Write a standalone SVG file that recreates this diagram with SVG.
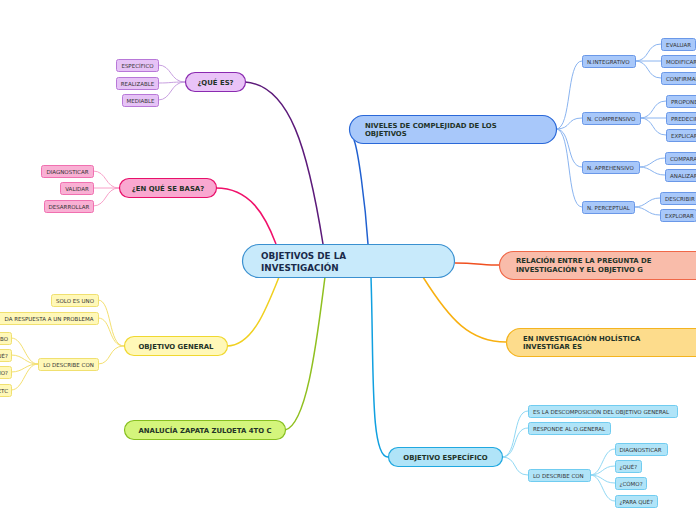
<svg xmlns="http://www.w3.org/2000/svg" width="696" height="520" viewBox="0 0 696 520">
<style>
text{font-family:"DejaVu Sans","Liberation Sans",sans-serif}
.m{font-size:6.9px;font-weight:bold;fill:#1f3328}
.s{font-size:5.5px;fill:#333}
.c{fill:none}
</style>
<rect width="696" height="520" fill="#fff"/>
<g id="connectors" class="c" fill="none">
<path d="M245,82 C290,85 308,150 323,244" stroke="#5c1a7a" stroke-width="1.5"/>
<path d="M216,188 C250,188 265,215 276,244" stroke="#f0106a" stroke-width="1.5"/>
<path d="M227,346 C252,346 266,310 279,277" stroke="#f0d020" stroke-width="1.5"/>
<path d="M285,430 C308,425 318,330 325,277" stroke="#90c020" stroke-width="1.5"/>
<path d="M371,277 C374,370 370,457 388,457" stroke="#10a0e0" stroke-width="1.5"/>
<path d="M368,244 C365,200 358,150 354,140" stroke="#2060d0" stroke-width="1.5"/>
<path d="M455,263 C475,263 485,265 499,265" stroke="#f05020" stroke-width="1.5"/>
<path d="M423,277 C450,320 470,342 506,342" stroke="#f8b010" stroke-width="1.5"/>
<g stroke="#c8a0e0" stroke-width="1">
<path d="M185,82 C170,82 172,65 158,65"/>
<path d="M185,82 C170,82 172,83 158,83"/>
<path d="M185,82 C170,82 172,100 158,100"/>
</g>
<g stroke="#f8a0c8" stroke-width="1">
<path d="M119,188 C105,188 107,171 93,171"/>
<path d="M119,188 L93,188"/>
<path d="M119,188 C105,188 107,206 93,206"/>
</g>
<g stroke="#f4e070" stroke-width="1">
<path d="M124,346 C108,346 112,300 98,300"/>
<path d="M124,346 C108,346 112,318 98,318"/>
<path d="M124,346 C108,346 112,364 98,364"/>
<path d="M38,364 C25,364 24,338 11,338"/>
<path d="M38,364 C25,364 24,355 11,355"/>
<path d="M38,364 C25,364 24,372 11,372"/>
<path d="M38,364 C25,364 24,390 11,390"/>
</g>
<g stroke="#8ab4f0" stroke-width="1">
<path d="M556,129 C572,129 566,61 582,61"/>
<path d="M556,129 C572,129 566,118 582,118"/>
<path d="M556,129 C572,129 566,167 582,167"/>
<path d="M556,129 C572,129 566,207 582,207"/>
<path d="M635,61 C650,61 646,44 661,44"/>
<path d="M635,61 L661,61"/>
<path d="M635,61 C650,61 646,78 661,78"/>
<path d="M640,118 C655,118 651,101 666,101"/>
<path d="M640,118 L666,118"/>
<path d="M640,118 C655,118 651,135 666,135"/>
<path d="M639,167 C652,167 652,158 665,158"/>
<path d="M639,167 C652,167 652,175 665,175"/>
<path d="M634,207 C647,207 647,198 660,198"/>
<path d="M634,207 C647,207 647,215 660,215"/>
</g>
<g stroke="#90d8f4" stroke-width="1">
<path d="M502,457 C518,457 512,411 528,411"/>
<path d="M502,457 C518,457 512,428 528,428"/>
<path d="M502,457 C518,457 512,475 528,475"/>
<path d="M590,475 C603,475 602,449 615,449"/>
<path d="M590,475 C603,475 602,466 615,466"/>
<path d="M590,475 C603,475 602,483 615,483"/>
<path d="M590,475 C603,475 602,501 615,501"/>
</g>
</g>
<g id="center">
<rect x="242.5" y="244.5" width="212" height="33" rx="16.5" fill="#c8eafb" stroke="#3a90d0" stroke-width="1.2"/>
<text x="261" y="259" font-size="8.8" font-weight="bold" fill="#1a2a4a">OBJETIVOS DE LA</text>
<text x="261" y="270.5" font-size="8.8" font-weight="bold" fill="#1a2a4a">INVESTIGACIÓN</text>
</g>
<g id="que-es">
<rect x="185.5" y="72.5" width="60" height="19" rx="9.5" fill="#e9c3f7" stroke="#8a2ab0" stroke-width="1.2"/>
<text class="m" x="215.5" y="84.5" text-anchor="middle">¿QUÉ ES?</text>
</g>
<g id="especifico"><rect x="116.5" y="59.5" width="42" height="12" rx="2" fill="#e6c3f6" stroke="#b878d8"/><text class="s" x="137.5" y="67.5" text-anchor="middle">ESPECÍFICO</text></g>
<g id="realizable"><rect x="116.5" y="77.5" width="42" height="12" rx="2" fill="#e6c3f6" stroke="#b878d8"/><text class="s" x="137.5" y="85.5" text-anchor="middle">REALIZABLE</text></g>
<g id="mediable"><rect x="122.5" y="94.5" width="36" height="12" rx="2" fill="#e6c3f6" stroke="#b878d8"/><text class="s" x="140.5" y="102.5" text-anchor="middle">MEDIABLE</text></g>
<g id="en-que-se-basa">
<rect x="119.5" y="178.5" width="97" height="19" rx="9.5" fill="#f9a8d0" stroke="#e8106a" stroke-width="1.2"/>
<text class="m" x="168" y="190.5" text-anchor="middle">¿EN QUÉ SE BASA?</text>
</g>
<g id="diagnosticar1"><rect x="41.5" y="165.5" width="52" height="12" rx="2" fill="#f9b0d4" stroke="#f070b0"/><text class="s" x="67.5" y="173.5" text-anchor="middle">DIAGNOSTICAR</text></g>
<g id="validar"><rect x="60.5" y="182.5" width="33" height="12" rx="2" fill="#f9b0d4" stroke="#f070b0"/><text class="s" x="77" y="190.5" text-anchor="middle">VALIDAR</text></g>
<g id="desarrollar"><rect x="44.5" y="200.5" width="49" height="12" rx="2" fill="#f9b0d4" stroke="#f070b0"/><text class="s" x="69" y="208.5" text-anchor="middle">DESARROLLAR</text></g>
<g id="objetivo-general">
<rect x="124.5" y="336.5" width="103" height="19" rx="9.5" fill="#fff8b8" stroke="#f0d830" stroke-width="1.2"/>
<text class="m" x="176" y="348.5" text-anchor="middle">OBJETIVO GENERAL</text>
</g>
<g id="solo-es-uno"><rect x="51.5" y="294.5" width="47" height="12" rx="2" fill="#fff8b8" stroke="#f0e070"/><text class="s" x="75" y="302.5" text-anchor="middle">SOLO ES UNO</text></g>
<g id="da-respuesta"><rect x="-2.5" y="312.5" width="101" height="12" rx="2" fill="#fff8b8" stroke="#f0e070"/><text class="s" x="49" y="320.5" text-anchor="middle">DA RESPUESTA A UN PROBLEMA</text></g>
<g id="lo-describe-con-g"><rect x="38.5" y="358.5" width="60" height="12" rx="2" fill="#fff8b8" stroke="#f0e070"/><text class="s" x="68.5" y="366.5" text-anchor="middle">LO DESCRIBE CON</text></g>
<g id="g-verbo"><rect x="-30.5" y="332.5" width="42" height="12" rx="2" fill="#fff8b8" stroke="#f0e070"/><text class="s" x="8" y="340.5" text-anchor="end">VERBO</text></g>
<g id="g-que"><rect x="-30.5" y="349.5" width="42" height="12" rx="2" fill="#fff8b8" stroke="#f0e070"/><text class="s" x="8" y="357.5" text-anchor="end">¿QUÉ?</text></g>
<g id="g-como"><rect x="-30.5" y="366.5" width="42" height="12" rx="2" fill="#fff8b8" stroke="#f0e070"/><text class="s" x="8" y="374.5" text-anchor="end">¿CÓMO?</text></g>
<g id="g-etc"><rect x="-30.5" y="384.5" width="42" height="12" rx="2" fill="#fff8b8" stroke="#f0e070"/><text class="s" x="8" y="392.5" text-anchor="end">ETC</text></g>
<g id="analucia">
<rect x="124.5" y="420.5" width="161" height="19" rx="9.5" fill="#d4f57c" stroke="#88c020" stroke-width="1.2"/>
<text class="m" x="205" y="432.5" text-anchor="middle">ANALUCÍA ZAPATA ZULOETA 4TO C</text>
</g>
<g id="objetivo-especifico">
<rect x="388.5" y="447.5" width="114" height="19" rx="9.5" fill="#b0e4f8" stroke="#20a8e0" stroke-width="1.2"/>
<text class="m" x="445.5" y="459.5" text-anchor="middle">OBJETIVO ESPECÍFICO</text>
</g>
<g id="descomposicion"><rect x="528.5" y="405.5" width="149" height="12" rx="2" fill="#b0e4f8" stroke="#70ccf0"/><text class="s" x="533" y="413.5">ES LA DESCOMPOSICIÓN DEL OBJETIVO GENERAL</text></g>
<g id="responde"><rect x="528.5" y="422.5" width="82" height="12" rx="2" fill="#b0e4f8" stroke="#70ccf0"/><text class="s" x="533" y="430.5">RESPONDE AL O.GENERAL</text></g>
<g id="lo-describe-con-e"><rect x="528.5" y="469.5" width="62" height="12" rx="2" fill="#b0e4f8" stroke="#70ccf0"/><text class="s" x="533" y="477.5">LO DESCRIBE CON</text></g>
<g id="e-diagnosticar"><rect x="615.5" y="443.5" width="52" height="12" rx="2" fill="#b0e4f8" stroke="#70ccf0"/><text class="s" x="619.5" y="451.5">DIAGNOSTICAR</text></g>
<g id="e-que"><rect x="615.5" y="460.5" width="26" height="12" rx="2" fill="#b0e4f8" stroke="#70ccf0"/><text class="s" x="619.5" y="468.5">¿QUÉ?</text></g>
<g id="e-como"><rect x="615.5" y="477.5" width="31" height="12" rx="2" fill="#b0e4f8" stroke="#70ccf0"/><text class="s" x="619.5" y="485.5">¿CÓMO?</text></g>
<g id="e-para-que"><rect x="615.5" y="495.5" width="42" height="12" rx="2" fill="#b0e4f8" stroke="#70ccf0"/><text class="s" x="619.5" y="503.5">¿PARA QUÉ?</text></g>
<g id="niveles">
<rect x="349.5" y="115.5" width="207" height="28" rx="14" fill="#a8c8fa" stroke="#2a68d8" stroke-width="1.2"/>
<text class="m" x="365" y="127.5">NIVELES DE COMPLEJIDAD DE LOS</text>
<text class="m" x="365" y="136">OBJETIVOS</text>
</g>
<g id="n-integrativo"><rect x="582.5" y="55.5" width="53" height="12" rx="2" fill="#a8c8fa" stroke="#6a98e8"/><text class="s" x="587" y="63.5">N.INTEGRATIVO</text></g>
<g id="n-comprensivo"><rect x="582.5" y="112.5" width="58" height="12" rx="2" fill="#a8c8fa" stroke="#6a98e8"/><text class="s" x="587" y="120.5">N. COMPRENSIVO</text></g>
<g id="n-aprehensivo"><rect x="582.5" y="161.5" width="57" height="12" rx="2" fill="#a8c8fa" stroke="#6a98e8"/><text class="s" x="587" y="169.5">N. APREHENSIVO</text></g>
<g id="n-perceptual"><rect x="582.5" y="201.5" width="52" height="12" rx="2" fill="#a8c8fa" stroke="#6a98e8"/><text class="s" x="587" y="209.5">N. PERCEPTUAL</text></g>
<g id="evaluar"><rect x="661.5" y="38.5" width="34" height="12" rx="2" fill="#a8c8fa" stroke="#6a98e8"/><text class="s" x="666" y="46.5">EVALUAR</text></g>
<g id="modificar"><rect x="661.5" y="55.5" width="42" height="12" rx="2" fill="#a8c8fa" stroke="#6a98e8"/><text class="s" x="666" y="63.5">MODIFICAR</text></g>
<g id="confirmar"><rect x="661.5" y="72.5" width="42" height="12" rx="2" fill="#a8c8fa" stroke="#6a98e8"/><text class="s" x="666" y="80.5">CONFIRMAR</text></g>
<g id="proponer"><rect x="666.5" y="95.5" width="40" height="12" rx="2" fill="#a8c8fa" stroke="#6a98e8"/><text class="s" x="671" y="103.5">PROPONER</text></g>
<g id="predecir"><rect x="666.5" y="112.5" width="40" height="12" rx="2" fill="#a8c8fa" stroke="#6a98e8"/><text class="s" x="671" y="120.5">PREDECIR</text></g>
<g id="explicar"><rect x="666.5" y="129.5" width="40" height="12" rx="2" fill="#a8c8fa" stroke="#6a98e8"/><text class="s" x="671" y="137.5">EXPLICAR</text></g>
<g id="comparar"><rect x="665.5" y="152.5" width="42" height="12" rx="2" fill="#a8c8fa" stroke="#6a98e8"/><text class="s" x="670" y="160.5">COMPARAR</text></g>
<g id="analizar"><rect x="665.5" y="169.5" width="42" height="12" rx="2" fill="#a8c8fa" stroke="#6a98e8"/><text class="s" x="670" y="177.5">ANALIZAR</text></g>
<g id="describir"><rect x="660.5" y="192.5" width="42" height="12" rx="2" fill="#a8c8fa" stroke="#6a98e8"/><text class="s" x="665" y="200.5">DESCRIBIR</text></g>
<g id="explorar"><rect x="660.5" y="209.5" width="36" height="12" rx="2" fill="#a8c8fa" stroke="#6a98e8"/><text class="s" x="665" y="217.5">EXPLORAR</text></g>
<g id="relacion">
<rect x="499.5" y="251.5" width="210" height="28" rx="14" fill="#f9bcaa" stroke="#f06848" stroke-width="1.2"/>
<text class="m" x="516" y="263">RELACIÓN ENTRE LA PREGUNTA DE</text>
<text class="m" x="516" y="271.5">INVESTIGACIÓN Y EL OBJETIVO G</text>
</g>
<g id="holistica">
<rect x="506.5" y="328.5" width="203" height="28" rx="14" fill="#fddc8c" stroke="#f4b420" stroke-width="1.2"/>
<text class="m" x="523" y="340.5">EN INVESTIGACIÓN HOLÍSTICA</text>
<text class="m" x="523" y="349">INVESTIGAR ES</text>
</g>
</svg>
